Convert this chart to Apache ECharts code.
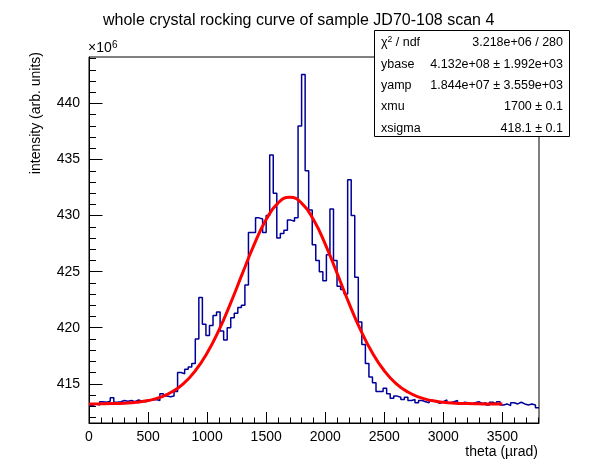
<!DOCTYPE html>
<html>
<head>
<meta charset="utf-8">
<script src="https://cdn.jsdelivr.net/npm/echarts@6/dist/echarts.min.js"></script>
<style>
html, body { margin: 0; padding: 0; background: #fff; }
#chart { width: 598px; height: 474px; }
</style>
</head>
<body>
<div id="chart"></div>
<script>
// histogram: bins of 30 urad starting at 0, counts in units of 1e6
const binStart = 0;
const binWidth = 30;
const counts = [
  413.05, 413.2, 413.1, 413.4, 413.35, 413.45, 413.75, 413.35, 413.4, 413.5,
  413.45, 413.5, 413.4, 413.55, 413.45, 413.4, 413.5, 413.55, 413.6, 413.5,
  414.1, 413.9, 413.85, 413.9, 414.3, 416.0, 415.9, 416.3, 416.5, 416.8,
  419.0, 422.7, 420.3, 419.3, 420.2, 421.1, 421.4, 419.7, 418.9, 420.0,
  420.9, 421.3, 421.8, 422.0, 423.8, 428.5, 428.5, 429.8, 429.7, 428.5,
  430.0, 435.4, 432.0, 428.0, 428.4, 428.7, 429.6, 429.5, 429.8, 438.0,
  442.6, 434.0, 430.5, 427.4, 426.0, 425.0, 424.2, 426.5, 430.6, 426.0,
  423.7, 423.4, 423.0, 433.2, 430.0, 424.5, 420.5, 418.5, 416.8, 415.6,
  415.1, 414.3, 414.3, 414.6, 414.1, 413.7, 413.9, 413.8, 413.6, 413.8,
  413.5, 413.6, 413.3, 413.5, 413.4, 413.3, 413.5, 413.4, 413.25, 413.4,
  413.55, 413.3, 413.4, 413.5, 413.2, 413.35, 413.3, 413.2, 413.3, 413.4,
  413.25, 413.3, 413.1, 413.35, 413.2, 413.4, 413.1, 413.2, 413.05, 413.3,
  413.2, 413.35, 413.2, 413.1, 413.2, 413.1, 412.85
];

// fitted curve, read every 100 urad
const fitX = [
  0, 100, 200, 300, 400, 500, 600, 700, 800, 900, 1000, 1100,
  1200, 1300, 1400, 1500, 1600, 1700, 1800, 1900, 2000, 2100, 2200, 2300,
  2400, 2500, 2600, 2700, 2800, 2900, 3000, 3100, 3200, 3300, 3400, 3500
];
const fitY = [
  413.20, 413.21, 413.23, 413.27, 413.35, 413.50, 413.78, 414.26, 415.02, 416.16, 417.74, 419.78,
  422.22, 424.87, 427.46, 429.65, 431.12, 431.64, 431.12, 429.65, 427.46, 424.87, 422.22, 419.78,
  417.74, 416.16, 415.02, 414.26, 413.78, 413.50, 413.35, 413.27, 413.23, 413.21, 413.20, 413.20
];

const xTickLabels = [0, 500, 1000, 1500, 2000, 2500, 3000, 3500];
const yTickLabels = [415, 420, 425, 430, 435, 440];

const statNames = ['χ{sup|2} / ndf', 'ybase', 'yamp', 'xmu', 'xsigma'];
const statValues = [
  '3.218e+06 / 280',
  '4.132e+08 ± 1.992e+03',
  '1.844e+07 ± 3.559e+03',
  '1700 ± 0.1',
  '418.1 ± 0.1'
];

const xMax = binStart + counts.length * binWidth;
const yMin = 411.5, yMax = 444.15;

let xMinor = [];
for (let v = 100; v < xMax; v += 100) xMinor.push(v);
let yMinor = [];
for (let v = 412; v < yMax; v += 1) yMinor.push(v);

// bin edges for the step line
let histData = counts.map((c, i) => [binStart + i * binWidth, c]);
histData.push([xMax, counts[counts.length - 1]]);

const font = 'Liberation Sans, Arial, Helvetica, sans-serif';

let chart = echarts.init(document.getElementById('chart'), null, { renderer: 'canvas' });

let statTexts = [];
statNames.forEach((n, i) => {
  let y = 43 + i * 21.3;
  statTexts.push({
    type: 'text', x: 381, y: y, z: 101,
    style: {
      text: n, fill: '#000', fontSize: 12.5, fontFamily: font,
      align: 'left', verticalAlign: 'middle',
      rich: { sup: { fontSize: 8.5, fontFamily: font, verticalAlign: 'top', padding: [0, 0, 6, 0] } }
    }
  });
  statTexts.push({
    type: 'text', x: 563, y: y, z: 101,
    style: {
      text: statValues[i], fill: '#000', fontSize: 12.5, fontFamily: font,
      align: 'right', verticalAlign: 'middle'
    }
  });
});

const option = {
  animation: false,
  backgroundColor: '#fff',
  title: {
    text: 'whole crystal rocking curve of sample JD70-108 scan 4',
    left: 98,
    top: 8,
    textStyle: { fontSize: 16, fontWeight: 'normal', color: '#000', fontFamily: font }
  },
  grid: {
    left: 89, top: 57, right: 59, bottom: 51,
    show: true, borderColor: '#000', borderWidth: 1,
    outerBoundsMode: 'none'
  },
  xAxis: [{
    type: 'value', min: binStart, max: xMax, position: 'bottom',
    axisLine: { show: true, lineStyle: { color: '#000', width: 1 } },
    axisTick: { show: true, inside: true, length: 11, customValues: xTickLabels, lineStyle: { color: '#000' } },
    axisLabel: {
      customValues: xTickLabels, color: '#000', fontSize: 14, fontFamily: font, margin: 7,
      formatter: v => String(v)
    },
    splitLine: { show: false }
  }, {
    type: 'value', min: binStart, max: xMax, position: 'bottom',
    axisLine: { show: false },
    axisTick: { show: true, inside: true, length: 5.5, customValues: xMinor, lineStyle: { color: '#000' } },
    axisLabel: { show: false },
    splitLine: { show: false }
  }],
  yAxis: [{
    type: 'value', min: yMin, max: yMax, position: 'left',
    axisLine: { show: true, lineStyle: { color: '#000', width: 1 } },
    axisTick: { show: true, inside: true, length: 13.5, customValues: yTickLabels, lineStyle: { color: '#000' } },
    axisLabel: {
      customValues: yTickLabels, color: '#000', fontSize: 14, fontFamily: font, margin: 9,
      formatter: v => String(v)
    },
    splitLine: { show: false }
  }, {
    type: 'value', min: yMin, max: yMax, position: 'left', offset: 0,
    axisLine: { show: false },
    axisTick: { show: true, inside: true, length: 7, customValues: yMinor, lineStyle: { color: '#000' } },
    axisLabel: { show: false },
    splitLine: { show: false }
  }],
  series: [{
    name: 'histogram',
    type: 'line',
    step: 'end',
    data: histData,
    symbol: 'none',
    lineStyle: { color: '#000099', width: 1.5 },
    z: 2
  }, {
    name: 'fit',
    type: 'line',
    smooth: true,
    data: fitX.map((x, i) => [x, fitY[i]]),
    symbol: 'none',
    lineStyle: { color: '#ff0000', width: 3 },
    z: 3
  }],
  graphic: [
    {
      type: 'text', x: 88, y: 55,
      style: { text: '×10', fill: '#000', fontSize: 14, fontFamily: font, align: 'left', verticalAlign: 'bottom' }
    },
    {
      type: 'text', x: 112, y: 45,
      style: { text: '6', fill: '#000', fontSize: 10, fontFamily: font, align: 'left', verticalAlign: 'middle' }
    },
    {
      type: 'text', x: 36, y: 52, rotation: Math.PI / 2,
      style: { text: 'intensity (arb. units)', fill: '#000', fontSize: 14, fontFamily: font, align: 'right', verticalAlign: 'middle' }
    },
    {
      type: 'text', x: 538, y: 452,
      style: { text: 'theta (µrad)', fill: '#000', fontSize: 14, fontFamily: font, align: 'right', verticalAlign: 'middle' }
    },
    {
      type: 'rect', z: 100,
      shape: { x: 374.5, y: 30.5, width: 195, height: 106 },
      style: { fill: '#fff', stroke: '#000', lineWidth: 1 }
    }
  ].concat(statTexts)
};

chart.setOption(option);
</script>
</body>
</html>
